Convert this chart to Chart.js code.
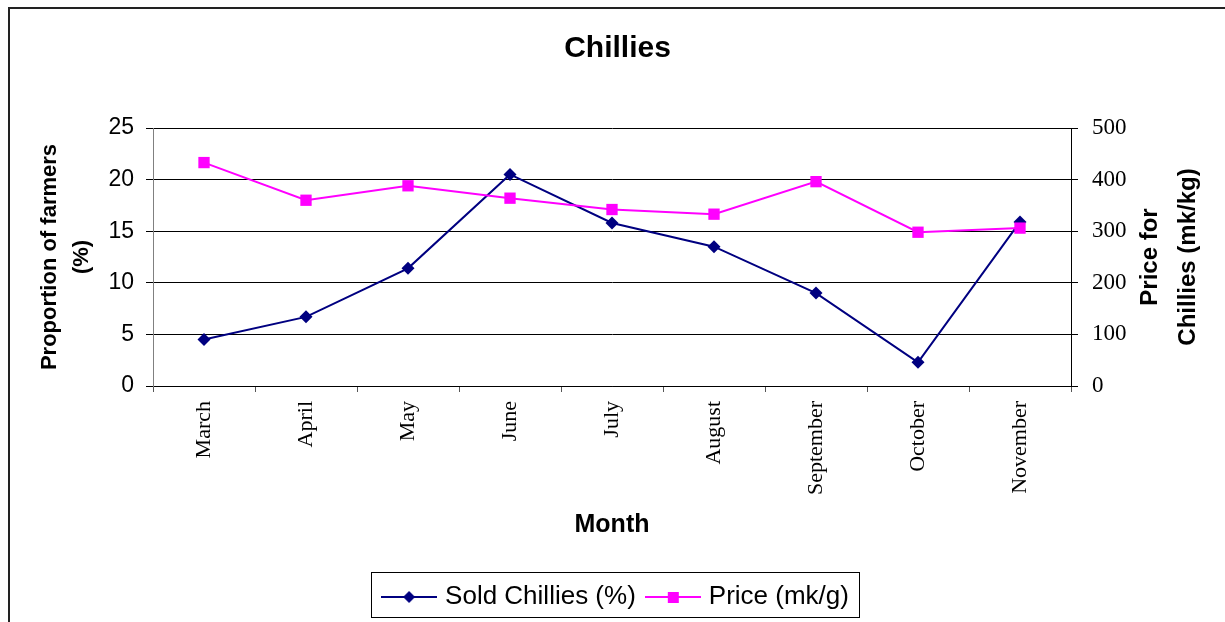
<!DOCTYPE html>
<html>
<head>
<meta charset="utf-8">
<script src="https://cdn.jsdelivr.net/npm/chart.js@4"></script>
<style>
  html, body { margin: 0; padding: 0; background: #fff; overflow: hidden; }
</style>
</head>
<body>
<canvas id="myChart" width="1225" height="622"></canvas>
<script>
var months = ['March', 'April', 'May', 'June', 'July', 'August', 'September', 'October', 'November'];
var soldChillies = [4.5, 6.7, 11.4, 20.5, 15.8, 13.5, 9.0, 2.3, 15.9];
var priceMkKg = [433, 360, 388, 364, 342, 333, 396, 298, 306];
var leftTicks = [0, 5, 10, 15, 20, 25];
var rightTicks = [0, 100, 200, 300, 400, 500];

var SANS = "'Liberation Sans', Arial, sans-serif";
var SERIF = "'Liberation Serif', 'Times New Roman', serif";
var NAVY = '#000080';
var PINK = '#FF00FF';

// little line + marker picture for the legend
function legendSample(color, shape) {
  var c = document.createElement('canvas');
  c.width = 56; c.height = 16;
  var g = c.getContext('2d');
  g.strokeStyle = color;
  g.lineWidth = 2;
  g.beginPath(); g.moveTo(0, 8); g.lineTo(56, 8); g.stroke();
  g.fillStyle = color;
  g.beginPath();
  if (shape == 'diamond') {
    g.moveTo(28, 2); g.lineTo(34, 8); g.lineTo(28, 14); g.lineTo(22, 8);
  } else {
    g.rect(23, 3, 11, 11);
  }
  g.closePath(); g.fill();
  return c;
}

var framePlugin = {
  id: 'frame',
  beforeDraw: function(chart) {
    var c = chart.ctx;
    c.save();
    c.fillStyle = '#fff';
    c.fillRect(0, 0, chart.width, chart.height);
    c.strokeStyle = '#222';
    c.lineWidth = 2;
    c.beginPath();
    c.moveTo(9, 622); c.lineTo(9, 8); c.lineTo(1225, 8);
    c.stroke();
    c.restore();
  },
  afterDraw: function(chart) {
    var c = chart.ctx;
    // box round the legend
    var lg = chart.legend;
    if (lg && lg.legendHitBoxes.length) {
      var hb = lg.legendHitBoxes;
      var x0 = hb[0].left - 15;
      var x1 = hb[hb.length - 1].left + hb[hb.length - 1].width + 10;
      c.save();
      c.strokeStyle = '#000';
      c.lineWidth = 1;
      c.strokeRect(Math.round(x0) + 0.5, 572.5, Math.round(x1 - x0), 45);
      c.restore();
    }
    // right axis title, reads bottom to top
    var y1 = chart.scales.y1;
    var cy = (y1.top + y1.bottom) / 2;
    c.save();
    c.fillStyle = '#000';
    c.font = 'bold 24px ' + SANS;
    c.textAlign = 'center';
    c.textBaseline = 'middle';
    c.translate(1150, cy);
    c.rotate(-Math.PI / 2);
    c.fillText('Price for', 0, 0);
    c.fillText('Chillies (mk/kg)', 0, 38);
    c.restore();
  }
};

var ctx = document.getElementById('myChart').getContext('2d');
var chart = new Chart(ctx, {
  type: 'line',
  data: {
    labels: months,
    datasets: [{
      label: 'Sold Chillies (%)',
      data: soldChillies,
      yAxisID: 'y',
      borderColor: NAVY,
      backgroundColor: NAVY,
      borderWidth: 2,
      pointStyle: 'rectRot',
      pointRadius: 6.5,
      pointBorderWidth: 0,
      tension: 0,
      order: 1,
      fill: false
    }, {
      label: 'Price (mk/g)',
      data: priceMkKg,
      yAxisID: 'y1',
      borderColor: PINK,
      backgroundColor: PINK,
      borderWidth: 2,
      pointStyle: 'rect',
      pointRadius: 8,
      pointBorderWidth: 0,
      tension: 0,
      order: 0,
      fill: false
    }]
  },
  options: {
    responsive: false,
    animation: false,
    devicePixelRatio: 1,
    layout: { padding: { left: 10, top: 10, right: 0, bottom: 2 } },
    plugins: {
      title: {
        display: true,
        text: 'Chillies',
        color: '#000',
        font: { family: SANS, size: 30, weight: 'bold', lineHeight: 1.2 },
        padding: { top: 21, bottom: 61 }
      },
      legend: {
        position: 'bottom',
        labels: {
          color: '#000',
          font: { family: SANS, size: 26 },
          usePointStyle: true,
          pointStyleWidth: 46,
          boxHeight: 14,
          padding: 14,
          generateLabels: function(ch) {
            var items = Chart.defaults.plugins.legend.labels.generateLabels(ch);
            items.sort(function(a, b) { return a.datasetIndex - b.datasetIndex; });
            items.forEach(function(it) {
              it.pointStyle = it.datasetIndex == 0 ? legendSample(NAVY, 'diamond') : legendSample(PINK, 'square');
              it.lineWidth = 0;
            });
            return items;
          }
        }
      },
      tooltip: { enabled: false }
    },
    scales: {
      x: {
        type: 'category',
        offset: true,
        grid: { offset: true, drawOnChartArea: false, tickLength: 6, color: '#555' },
        border: { color: '#000', width: 1 },
        ticks: {
          color: '#000',
          font: { family: SERIF, size: 22 },
          minRotation: 90,
          maxRotation: 90,
          padding: 9,
          autoSkip: false
        },
        title: {
          display: true,
          text: 'Month',
          color: '#000',
          font: { family: SANS, size: 25, weight: 'bold', lineHeight: 1.2 },
          padding: { top: 0, bottom: 30 }
        },
        afterFit: function(s) { s.height = 184; }
      },
      y: {
        position: 'left',
        min: 0,
        max: 25,
        afterBuildTicks: function(s) { s.ticks = leftTicks.map(function(v) { return { value: v }; }); },
        grid: { color: '#000', tickLength: 7, lineWidth: 1 },
        border: { color: '#808080', width: 1 },
        ticks: { color: '#000', font: { family: SANS, size: 23 }, padding: 12 },
        title: {
          display: true,
          text: ['Proportion of farmers', '(%)'],
          color: '#000',
          font: { family: SANS, size: 22, weight: 'bold', lineHeight: 1.45 },
          padding: { top: 24, bottom: 0 }
        },
        afterFit: function(s) { s.width = 143; }
      },
      y1: {
        position: 'right',
        min: 0,
        max: 500,
        afterBuildTicks: function(s) { s.ticks = rightTicks.map(function(v) { return { value: v }; }); },
        grid: { drawOnChartArea: false, tickLength: 7, color: '#000' },
        border: { color: '#000', width: 1 },
        ticks: { color: '#000', font: { family: SERIF, size: 23 }, padding: 14 },
        afterFit: function(s) { s.width = 154; }
      }
    }
  },
  plugins: [framePlugin]
});
</script>
</body>
</html>
